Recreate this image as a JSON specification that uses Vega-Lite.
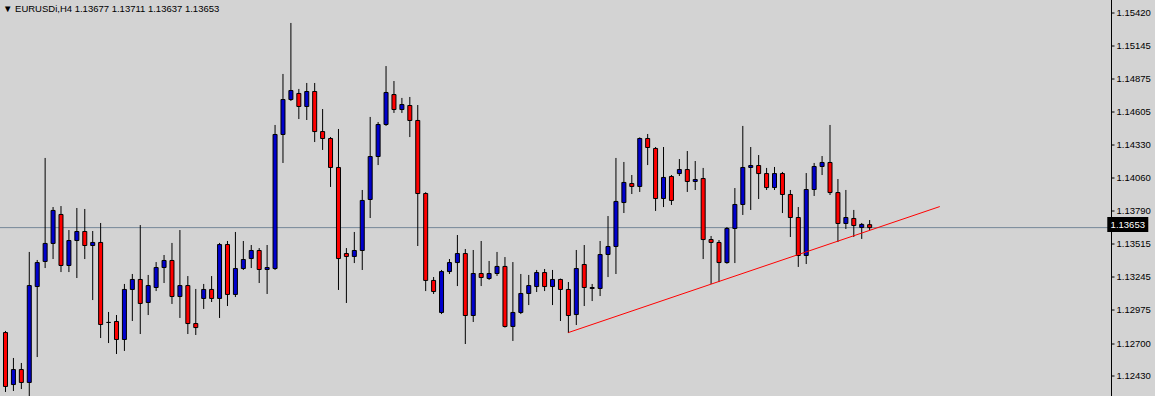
{
  "$schema": "https://vega.github.io/schema/vega-lite/v6.json",
  "width": 1111,
  "height": 396,
  "autosize": {"type": "none"},
  "padding": {"left": 0, "top": 0, "right": 44, "bottom": 0},
  "background": "#d3d3d3",
  "config": {
    "view": {"stroke": null},
    "axis": {"labelOverlap": false, "labelFlush": false, "labelBound": false, "grid": false}
  },
  "title": {
    "text": "▼ EURUSDi,H4  1.13677 1.13711 1.13637 1.13653",
    "anchor": "start",
    "frame": "group",
    "orient": "top",
    "offset": -13,
    "baseline": "top",
    "dx": 3,
    "font": "Liberation Sans",
    "fontSize": 9.5,
    "fontWeight": "normal",
    "color": "black"
  },
  "datasets": {
    "candles": [
      {"k":0,"o":1.12791,"h":1.12800,"l":1.12307,"c":1.12348},
      {"k":1,"o":1.12364,"h":1.12578,"l":1.12315,"c":1.12487},
      {"k":2,"o":1.12487,"h":1.12537,"l":1.12331,"c":1.12381},
      {"k":3,"o":1.12381,"h":1.13449,"l":1.12250,"c":1.13177},
      {"k":4,"o":1.13169,"h":1.13383,"l":1.12594,"c":1.13366},
      {"k":5,"o":1.13375,"h":1.14221,"l":1.13325,"c":1.13523},
      {"k":6,"o":1.13523,"h":1.13818,"l":1.13399,"c":1.13794},
      {"k":7,"o":1.13761,"h":1.13826,"l":1.13292,"c":1.13342},
      {"k":8,"o":1.13342,"h":1.13629,"l":1.13292,"c":1.13547},
      {"k":9,"o":1.13547,"h":1.13810,"l":1.13243,"c":1.13621},
      {"k":10,"o":1.13621,"h":1.13802,"l":1.13399,"c":1.13506},
      {"k":11,"o":1.13506,"h":1.13621,"l":1.13062,"c":1.13531},
      {"k":12,"o":1.13531,"h":1.13687,"l":1.12750,"c":1.12857},
      {"k":13,"o":1.12874,"h":1.12956,"l":1.12709,"c":1.12874},
      {"k":14,"o":1.12882,"h":1.12931,"l":1.12619,"c":1.12734},
      {"k":15,"o":1.12734,"h":1.13186,"l":1.12644,"c":1.13145},
      {"k":16,"o":1.13145,"h":1.13268,"l":1.12890,"c":1.13227},
      {"k":17,"o":1.13227,"h":1.13670,"l":1.12783,"c":1.13030},
      {"k":18,"o":1.13038,"h":1.13260,"l":1.12939,"c":1.13177},
      {"k":19,"o":1.13161,"h":1.13366,"l":1.13136,"c":1.13325},
      {"k":20,"o":1.13325,"h":1.13424,"l":1.13202,"c":1.13383},
      {"k":21,"o":1.13383,"h":1.13523,"l":1.13030,"c":1.13087},
      {"k":22,"o":1.13087,"h":1.13629,"l":1.12915,"c":1.13177},
      {"k":23,"o":1.13177,"h":1.13251,"l":1.12783,"c":1.12865},
      {"k":24,"o":1.12865,"h":1.13145,"l":1.12775,"c":1.12832},
      {"k":25,"o":1.13071,"h":1.13186,"l":1.12989,"c":1.13145},
      {"k":26,"o":1.13145,"h":1.13251,"l":1.13046,"c":1.13071},
      {"k":27,"o":1.13071,"h":1.13523,"l":1.12915,"c":1.13514},
      {"k":28,"o":1.13514,"h":1.13539,"l":1.13013,"c":1.13104},
      {"k":29,"o":1.13104,"h":1.13613,"l":1.13087,"c":1.13317},
      {"k":30,"o":1.13317,"h":1.13539,"l":1.13309,"c":1.13391},
      {"k":31,"o":1.13399,"h":1.13506,"l":1.13325,"c":1.13465},
      {"k":32,"o":1.13465,"h":1.13481,"l":1.13202,"c":1.13309},
      {"k":33,"o":1.13309,"h":1.13506,"l":1.13112,"c":1.13325},
      {"k":34,"o":1.13317,"h":1.14492,"l":1.13309,"c":1.14418},
      {"k":35,"o":1.14418,"h":1.14911,"l":1.14188,"c":1.14705},
      {"k":36,"o":1.14705,"h":1.15330,"l":1.14697,"c":1.14779},
      {"k":37,"o":1.14755,"h":1.14788,"l":1.14549,"c":1.14648},
      {"k":38,"o":1.14648,"h":1.14837,"l":1.14541,"c":1.14771},
      {"k":39,"o":1.14771,"h":1.14837,"l":1.14360,"c":1.14442},
      {"k":40,"o":1.14442,"h":1.14623,"l":1.14295,"c":1.14385},
      {"k":41,"o":1.14385,"h":1.14393,"l":1.13991,"c":1.14147},
      {"k":42,"o":1.14147,"h":1.14459,"l":1.13145,"c":1.13399},
      {"k":43,"o":1.13440,"h":1.13481,"l":1.13038,"c":1.13416},
      {"k":44,"o":1.13416,"h":1.13613,"l":1.13366,"c":1.13465},
      {"k":45,"o":1.13465,"h":1.13958,"l":1.13309,"c":1.13876},
      {"k":46,"o":1.13884,"h":1.14558,"l":1.13736,"c":1.14237},
      {"k":47,"o":1.14237,"h":1.14516,"l":1.14171,"c":1.14500},
      {"k":48,"o":1.14500,"h":1.14976,"l":1.14492,"c":1.14763},
      {"k":49,"o":1.14746,"h":1.14853,"l":1.14599,"c":1.14623},
      {"k":50,"o":1.14623,"h":1.14714,"l":1.14599,"c":1.14664},
      {"k":51,"o":1.14656,"h":1.14722,"l":1.14401,"c":1.14533},
      {"k":52,"o":1.14533,"h":1.14656,"l":1.13506,"c":1.13933},
      {"k":53,"o":1.13933,"h":1.13940,"l":1.13136,"c":1.13219},
      {"k":54,"o":1.13219,"h":1.13243,"l":1.13112,"c":1.13128},
      {"k":55,"o":1.12956,"h":1.13301,"l":1.12947,"c":1.13292},
      {"k":56,"o":1.13292,"h":1.13391,"l":1.13276,"c":1.13366},
      {"k":57,"o":1.13366,"h":1.13588,"l":1.13177,"c":1.13440},
      {"k":58,"o":1.13440,"h":1.13473,"l":1.12701,"c":1.12931},
      {"k":59,"o":1.12931,"h":1.13465,"l":1.12882,"c":1.13276},
      {"k":60,"o":1.13276,"h":1.13539,"l":1.13177,"c":1.13243},
      {"k":61,"o":1.13235,"h":1.13375,"l":1.13227,"c":1.13276},
      {"k":62,"o":1.13276,"h":1.13449,"l":1.13260,"c":1.13334},
      {"k":63,"o":1.13334,"h":1.13407,"l":1.12836,"c":1.12841},
      {"k":64,"o":1.12841,"h":1.13366,"l":1.12726,"c":1.12956},
      {"k":65,"o":1.12956,"h":1.13268,"l":1.12947,"c":1.13112},
      {"k":66,"o":1.13112,"h":1.13260,"l":1.13021,"c":1.13177},
      {"k":67,"o":1.13169,"h":1.13301,"l":1.13128,"c":1.13284},
      {"k":68,"o":1.13284,"h":1.13309,"l":1.13136,"c":1.13169},
      {"k":69,"o":1.13169,"h":1.13301,"l":1.13021,"c":1.13227},
      {"k":70,"o":1.13227,"h":1.13230,"l":1.12890,"c":1.13145},
      {"k":71,"o":1.13145,"h":1.13202,"l":1.12791,"c":1.12931},
      {"k":72,"o":1.12939,"h":1.13465,"l":1.12857,"c":1.13317},
      {"k":73,"o":1.13350,"h":1.13506,"l":1.13013,"c":1.13161},
      {"k":74,"o":1.13153,"h":1.13186,"l":1.13054,"c":1.13161},
      {"k":75,"o":1.13153,"h":1.13539,"l":1.13095,"c":1.13432},
      {"k":76,"o":1.13432,"h":1.13744,"l":1.13251,"c":1.13498},
      {"k":77,"o":1.13498,"h":1.14221,"l":1.13276,"c":1.13868},
      {"k":78,"o":1.13859,"h":1.14188,"l":1.13777,"c":1.14024},
      {"k":79,"o":1.14015,"h":1.14081,"l":1.13933,"c":1.13991},
      {"k":80,"o":1.13991,"h":1.14390,"l":1.13950,"c":1.14385},
      {"k":81,"o":1.14385,"h":1.14418,"l":1.14171,"c":1.14311},
      {"k":82,"o":1.14303,"h":1.14311,"l":1.13794,"c":1.13892},
      {"k":83,"o":1.13892,"h":1.14311,"l":1.13826,"c":1.14065},
      {"k":84,"o":1.14073,"h":1.14081,"l":1.13843,"c":1.13876},
      {"k":85,"o":1.14097,"h":1.14212,"l":1.14081,"c":1.14130},
      {"k":86,"o":1.14130,"h":1.14278,"l":1.13950,"c":1.14032},
      {"k":87,"o":1.14032,"h":1.14196,"l":1.13966,"c":1.14048},
      {"k":88,"o":1.14056,"h":1.14139,"l":1.13399,"c":1.13555},
      {"k":89,"o":1.13555,"h":1.13580,"l":1.13194,"c":1.13531},
      {"k":90,"o":1.13531,"h":1.13547,"l":1.13210,"c":1.13366},
      {"k":91,"o":1.13366,"h":1.13654,"l":1.13360,"c":1.13646},
      {"k":92,"o":1.13646,"h":1.13974,"l":1.13366,"c":1.13843},
      {"k":93,"o":1.13843,"h":1.14484,"l":1.13761,"c":1.14147},
      {"k":94,"o":1.14147,"h":1.14311,"l":1.13802,"c":1.14163},
      {"k":95,"o":1.14163,"h":1.14245,"l":1.13892,"c":1.14097},
      {"k":96,"o":1.14097,"h":1.14139,"l":1.13966,"c":1.13982},
      {"k":97,"o":1.13982,"h":1.14147,"l":1.13966,"c":1.14097},
      {"k":98,"o":1.14097,"h":1.14106,"l":1.13777,"c":1.13925},
      {"k":99,"o":1.13925,"h":1.13958,"l":1.13580,"c":1.13736},
      {"k":100,"o":1.13736,"h":1.13818,"l":1.13334,"c":1.13424},
      {"k":101,"o":1.13424,"h":1.14097,"l":1.13358,"c":1.13966},
      {"k":102,"o":1.13966,"h":1.14180,"l":1.13917,"c":1.14155},
      {"k":103,"o":1.14155,"h":1.14237,"l":1.14089,"c":1.14188},
      {"k":104,"o":1.14188,"h":1.14492,"l":1.13925,"c":1.13941},
      {"k":105,"o":1.13941,"h":1.14048,"l":1.13539,"c":1.13687},
      {"k":106,"o":1.13687,"h":1.13958,"l":1.13646,"c":1.13736},
      {"k":107,"o":1.13728,"h":1.13794,"l":1.13580,"c":1.13670},
      {"k":108,"o":1.13654,"h":1.13687,"l":1.13564,"c":1.13679},
      {"k":109,"o":1.13677,"h":1.13711,"l":1.13637,"c":1.13653}
    ],
    "trend": [
      {"k": 71, "p": 1.12791},
      {"k": 117.85, "p": 1.13826}
    ]
  },
  "layer": [
    {
      "data": {"name": "candles"},
      "transform": [{"filter": "datum.k == 109"}],
      "mark": {"type": "rule", "color": "#778899", "strokeWidth": 1},
      "encoding": {
        "y": {
          "field": "c", "type": "quantitative",
          "scale": {"domain": [1.1226981, 1.1552268], "nice": false, "zero": false},
          "axis": {
            "orient": "right",
            "values": [1.1243, 1.127, 1.12975, 1.13245, 1.13515, 1.1379, 1.1406, 1.1433, 1.14605, 1.14875, 1.15145, 1.1542],
            "format": ".5f",
            "title": null,
            "grid": false,
            "domainColor": "black",
            "domainWidth": 1,
            "tickColor": "black",
            "tickSize": 3,
            "tickWidth": 1,
            "labelPadding": 2,
            "labelFont": "Liberation Sans",
            "labelFontSize": 9.5,
            "labelColor": "black",
            "labelFlush": false,
            "labelOverlap": false,
            "labelBound": false,
            "translate": 0,
            "offset": 0.5
          }
        }
      }
    },
    {
      "data": {"name": "candles"},
      "mark": {"type": "rule", "color": "black", "strokeWidth": 1, "strokeCap": "square"},
      "encoding": {
        "x": {"field": "k", "type": "quantitative", "scale": {"domain": [-0.0625, 138.8125], "nice": false, "zero": false}, "axis": null},
        "y": {
          "field": "h", "type": "quantitative",
          "scale": {"domain": [1.1226981, 1.1552268], "nice": false, "zero": false},
          "axis": {
            "orient": "right",
            "values": [1.1243, 1.127, 1.12975, 1.13245, 1.13515, 1.1379, 1.1406, 1.1433, 1.14605, 1.14875, 1.15145, 1.1542],
            "format": ".5f",
            "title": null,
            "grid": false,
            "domainColor": "black",
            "domainWidth": 1,
            "tickColor": "black",
            "tickSize": 3,
            "tickWidth": 1,
            "labelPadding": 2,
            "labelFont": "Liberation Sans",
            "labelFontSize": 9.5,
            "labelColor": "black",
            "labelFlush": false,
            "labelOverlap": false,
            "labelBound": false,
            "translate": 0,
            "offset": 0.5
          }
        },
        "y2": {"field": "l"}
      }
    },
    {
      "data": {"name": "candles"},
      "mark": {"type": "bar", "width": 4, "stroke": "black", "strokeWidth": 1},
      "encoding": {
        "x": {"field": "k", "type": "quantitative", "scale": {"domain": [-0.0625, 138.8125], "nice": false, "zero": false}, "axis": null},
        "y": {
          "field": "o", "type": "quantitative",
          "scale": {"domain": [1.1226981, 1.1552268], "nice": false, "zero": false},
          "axis": {
            "orient": "right",
            "values": [1.1243, 1.127, 1.12975, 1.13245, 1.13515, 1.1379, 1.1406, 1.1433, 1.14605, 1.14875, 1.15145, 1.1542],
            "format": ".5f",
            "title": null,
            "grid": false,
            "domainColor": "black",
            "domainWidth": 1,
            "tickColor": "black",
            "tickSize": 3,
            "tickWidth": 1,
            "labelPadding": 2,
            "labelFont": "Liberation Sans",
            "labelFontSize": 9.5,
            "labelColor": "black",
            "labelFlush": false,
            "labelOverlap": false,
            "labelBound": false,
            "translate": 0,
            "offset": 0.5
          }
        },
        "y2": {"field": "c"},
        "fill": {"condition": {"test": "datum.c > datum.o", "value": "#0000cd"}, "value": "#ff0000"}
      }
    },
    {
      "data": {"name": "trend"},
      "mark": {"type": "line", "color": "#ff0000", "strokeWidth": 1},
      "encoding": {
        "x": {"field": "k", "type": "quantitative", "scale": {"domain": [-0.0625, 138.8125], "nice": false, "zero": false}, "axis": null},
        "y": {
          "field": "p", "type": "quantitative",
          "scale": {"domain": [1.1226981, 1.1552268], "nice": false, "zero": false},
          "axis": {
            "orient": "right",
            "values": [1.1243, 1.127, 1.12975, 1.13245, 1.13515, 1.1379, 1.1406, 1.1433, 1.14605, 1.14875, 1.15145, 1.1542],
            "format": ".5f",
            "title": null,
            "grid": false,
            "domainColor": "black",
            "domainWidth": 1,
            "tickColor": "black",
            "tickSize": 3,
            "tickWidth": 1,
            "labelPadding": 2,
            "labelFont": "Liberation Sans",
            "labelFontSize": 9.5,
            "labelColor": "black",
            "labelFlush": false,
            "labelOverlap": false,
            "labelBound": false,
            "translate": 0,
            "offset": 0.5
          }
        }
      }
    },
    {
      "data": {"name": "candles"},
      "transform": [{"filter": "datum.k == 109"}],
      "mark": {"type": "tick", "orient": "horizontal", "size": 41, "thickness": 15, "color": "black", "opacity": 1, "yOffset": -3},
      "encoding": {
        "x": {"datum": 141.56, "type": "quantitative", "scale": {"domain": [-0.0625, 138.8125], "nice": false, "zero": false}, "axis": null},
        "y": {
          "field": "c", "type": "quantitative",
          "scale": {"domain": [1.1226981, 1.1552268], "nice": false, "zero": false},
          "axis": {
            "orient": "right",
            "values": [1.1243, 1.127, 1.12975, 1.13245, 1.13515, 1.1379, 1.1406, 1.1433, 1.14605, 1.14875, 1.15145, 1.1542],
            "format": ".5f",
            "title": null,
            "grid": false,
            "domainColor": "black",
            "domainWidth": 1,
            "tickColor": "black",
            "tickSize": 3,
            "tickWidth": 1,
            "labelPadding": 2,
            "labelFont": "Liberation Sans",
            "labelFontSize": 9.5,
            "labelColor": "black",
            "labelFlush": false,
            "labelOverlap": false,
            "labelBound": false,
            "translate": 0,
            "offset": 0.5
          }
        }
      }
    },
    {
      "data": {"name": "candles"},
      "transform": [{"filter": "datum.k == 109"}],
      "mark": {"type": "text", "color": "white", "font": "Liberation Sans", "fontSize": 9.5, "align": "center", "baseline": "middle", "yOffset": -3},
      "encoding": {
        "x": {"datum": 141.56, "type": "quantitative", "scale": {"domain": [-0.0625, 138.8125], "nice": false, "zero": false}, "axis": null},
        "y": {
          "field": "c", "type": "quantitative",
          "scale": {"domain": [1.1226981, 1.1552268], "nice": false, "zero": false},
          "axis": {
            "orient": "right",
            "values": [1.1243, 1.127, 1.12975, 1.13245, 1.13515, 1.1379, 1.1406, 1.1433, 1.14605, 1.14875, 1.15145, 1.1542],
            "format": ".5f",
            "title": null,
            "grid": false,
            "domainColor": "black",
            "domainWidth": 1,
            "tickColor": "black",
            "tickSize": 3,
            "tickWidth": 1,
            "labelPadding": 2,
            "labelFont": "Liberation Sans",
            "labelFontSize": 9.5,
            "labelColor": "black",
            "labelFlush": false,
            "labelOverlap": false,
            "labelBound": false,
            "translate": 0,
            "offset": 0.5
          }
        },
        "text": {"field": "c", "type": "quantitative", "format": ".5f"}
      }
    }
  ]
}
